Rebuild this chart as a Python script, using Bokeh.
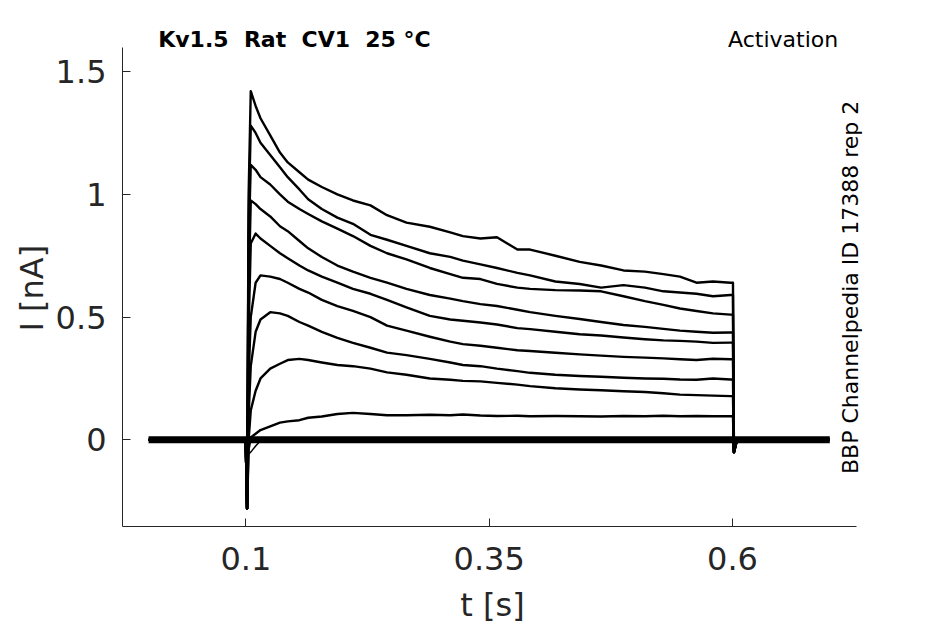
from bokeh.plotting import figure
from bokeh.models import Range1d, FixedTicker, Label, Title
from bokeh.embed import file_html
from bokeh.resources import INLINE

# ---------------- data ----------------
# shared sample times of the depolarised part of the sweep [s]
t_step = [0.105, 0.11, 0.115, 0.125, 0.135, 0.143, 0.155, 0.164, 0.178, 0.194,
          0.21, 0.228, 0.245, 0.265, 0.289, 0.31, 0.323, 0.341, 0.358, 0.379,
          0.392, 0.418, 0.443, 0.465, 0.488, 0.51, 0.529, 0.546, 0.563, 0.58, 0.598]

tr1 = [1.42, 1.36, 1.31, 1.24, 1.17, 1.13, 1.09, 1.06, 1.03, 1.00,
       0.975, 0.955, 0.915, 0.885, 0.868, 0.845, 0.83, 0.82, 0.825, 0.775,
       0.775, 0.75, 0.725, 0.71, 0.69, 0.685, 0.675, 0.665, 0.64, 0.645, 0.64]
tr2 = [1.28, 1.25, 1.21, 1.16, 1.11, 1.07, 1.02, 0.98, 0.94, 0.905,
       0.88, 0.835, 0.815, 0.79, 0.76, 0.745, 0.73, 0.715, 0.70, 0.68,
       0.67, 0.645, 0.635, 0.62, 0.63, 0.62, 0.605, 0.60, 0.595, 0.585, 0.59]
tr3 = [1.12, 1.10, 1.07, 1.04, 1.00, 0.97, 0.94, 0.92, 0.89, 0.86,
       0.83, 0.79, 0.76, 0.735, 0.70, 0.675, 0.66, 0.655, 0.635, 0.62,
       0.615, 0.61, 0.608, 0.605, 0.585, 0.565, 0.55, 0.535, 0.525, 0.515, 0.51]
tr4 = [0.975, 0.96, 0.94, 0.91, 0.87, 0.85, 0.81, 0.78, 0.745, 0.71,
       0.685, 0.66, 0.64, 0.615, 0.59, 0.575, 0.565, 0.553, 0.545, 0.53,
       0.52, 0.505, 0.492, 0.48, 0.468, 0.46, 0.452, 0.445, 0.44, 0.436, 0.437]
tr5 = [0.80, 0.84, 0.82, 0.79, 0.76, 0.74, 0.71, 0.69, 0.665, 0.64,
       0.615, 0.595, 0.57, 0.54, 0.505, 0.49, 0.485, 0.478, 0.47, 0.455,
       0.451, 0.44, 0.43, 0.425, 0.417, 0.41, 0.405, 0.403, 0.40, 0.395, 0.396]
tr6 = [0.50, 0.64, 0.67, 0.665, 0.655, 0.64, 0.615, 0.60, 0.57, 0.545,
       0.525, 0.50, 0.465, 0.445, 0.42, 0.40, 0.39, 0.383, 0.375, 0.365,
       0.362, 0.355, 0.348, 0.343, 0.338, 0.335, 0.332, 0.328, 0.325, 0.33, 0.328]
tr7 = [0.30, 0.44, 0.49, 0.52, 0.515, 0.505, 0.48, 0.465, 0.44, 0.415,
       0.395, 0.375, 0.355, 0.345, 0.33, 0.315, 0.305, 0.30, 0.29, 0.28,
       0.273, 0.265, 0.26, 0.257, 0.253, 0.25, 0.249, 0.246, 0.245, 0.25, 0.246]
tr8 = [0.12, 0.20, 0.25, 0.29, 0.31, 0.325, 0.33, 0.325, 0.315, 0.305,
       0.30, 0.29, 0.275, 0.265, 0.25, 0.245, 0.24, 0.238, 0.232, 0.225,
       0.219, 0.21, 0.205, 0.202, 0.198, 0.195, 0.19, 0.184, 0.182, 0.18, 0.178]
tr9 = [0.01, 0.025, 0.04, 0.055, 0.07, 0.075, 0.08, 0.09, 0.095, 0.105,
       0.11, 0.105, 0.10, 0.10, 0.102, 0.10, 0.103, 0.099, 0.097, 0.098,
       0.096, 0.097, 0.096, 0.095, 0.097, 0.096, 0.098, 0.096, 0.097, 0.096, 0.096]
traces = [tr1, tr2, tr3, tr4, tr5, tr6, tr7, tr8, tr9]

# value reached by each sweep right after the capacitive spike
onset_vals = [1.0, 0.9, 0.8, 0.6, 0.45, 0.25, 0.1, 0.0, -0.04]

# common pre-step part (holding, then capacitive spike)
t_pre = [0.0, 0.0998, 0.1012]
i_pre = [0.0, 0.0, -0.28]
t_onset = 0.1028
# common post-step part (tail transient then holding)
t_post = [0.6005, 0.6015, 0.604, 0.61, 0.7]
i_post = [None, -0.05, -0.01, 0.0, 0.0]

# non-activated sweeps (overlapping noisy baseline)
t_base = [0.0, 0.7]
i_base = [0.0, 0.0]
t_base_tr = [0.0, 0.0998, 0.1012, 0.1025, 0.106, 0.11, 0.116, 0.6, 0.6015, 0.604, 0.61, 0.7]
i_base_tr = [0.0, 0.0, -0.28, -0.06, -0.045, -0.025, 0.0, 0.0, -0.05, -0.01, 0.0, 0.0]

x_ticks = [0.1, 0.35, 0.6]
x_tick_labels = ["0.1", "0.35", "0.6"]
y_ticks = [0, 0.5, 1, 1.5]
y_tick_labels = ["0", "0.5", "1", "1.5"]
x_lim = (-0.0268, 0.7278)
y_lim = (-0.353, 1.600)

title_text = "Kv1.5 \u00a0Rat \u00a0CV1 \u00a025 °C"
protocol_text = "Activation"
source_text = "BBP Channelpedia ID 17388 rep 2"
x_label = "t [s]"
y_label = "I [nA]"

# ---------------- figure ----------------
FONT = "DejaVu Sans"
AX = "#262626"

# the frame reaches above the axes box so that the texts there are not clipped;
# the axis lines are limited to the axes box with `bounds`
p = figure(output_backend="svg", toolbar_location=None,
           frame_width=740, frame_height=505,
           min_border_left=122, min_border_right=67,
           min_border_top=21, min_border_bottom=80,
           x_range=Range1d(-0.0268, 0.7336), y_range=Range1d(-0.353, 1.7040))
p.outline_line_color = None
p.background_fill_color = "white"
p.border_fill_color = "white"
p.xgrid.visible = False
p.ygrid.visible = False

for ax in (p.xaxis[0], p.yaxis[0]):
    ax.axis_line_color = AX
    ax.axis_line_width = 1
    ax.major_tick_line_color = AX
    ax.major_tick_in = 8
    ax.major_tick_out = 0
    ax.minor_tick_line_color = None
    ax.major_label_text_font = FONT
    ax.major_label_text_font_size = "32px"
    ax.major_label_text_color = AX
    ax.axis_label_text_font = FONT
    ax.axis_label_text_font_size = "32px"
    ax.axis_label_text_color = AX
    ax.axis_label_text_font_style = "normal"

p.xaxis.bounds = x_lim
p.yaxis.bounds = y_lim
p.xaxis.ticker = FixedTicker(ticks=x_ticks)
p.xaxis.major_label_overrides = {t: l for t, l in zip(x_ticks, x_tick_labels)}
p.yaxis.ticker = FixedTicker(ticks=y_ticks)
p.yaxis.major_label_overrides = {t: l for t, l in zip(y_ticks, y_tick_labels)}
p.xaxis.axis_label = x_label
p.xaxis.major_label_standoff = 20
p.xaxis.axis_label_standoff = 13
p.yaxis.major_label_standoff = 16

# y label as a side title, placed along the axes box
p.add_layout(Title(text=y_label, align="left", offset=195, standoff=4,
                   text_font=FONT, text_font_size="32px", text_font_style="normal",
                   text_color=AX), "left")

# baseline sweeps
p.line(t_base, i_base, line_color="black", line_width=7)
p.line(t_base_tr, i_base_tr, line_color="black", line_width=1.5)

# activated sweeps
for tr, v0 in zip(traces, onset_vals):
    xs = t_pre + [t_onset] + t_step + t_post
    ys = i_pre + [v0] + tr + [tr[-1]] + i_post[1:]
    p.line(xs, ys, line_color="black", line_width=2.4, line_join="round")

# texts
p.add_layout(Label(x=0.0099, y=1.630, text=title_text, text_font=FONT,
                   text_font_size="22px", text_font_style="bold",
                   text_color="black", text_align="left", text_baseline="alphabetic"))
p.add_layout(Label(x=0.7086, y=1.630, text=protocol_text, text_font=FONT,
                   text_font_size="22px", text_color="black",
                   text_align="right", text_baseline="alphabetic"))
p.add_layout(Label(x=0.7213, y=0.621, text=source_text, text_font=FONT,
                   text_font_size="22px", text_color="black", angle=1.5708,
                   text_align="center", text_baseline="alphabetic"))

open("out.html", "w").write(file_html(p, INLINE))
